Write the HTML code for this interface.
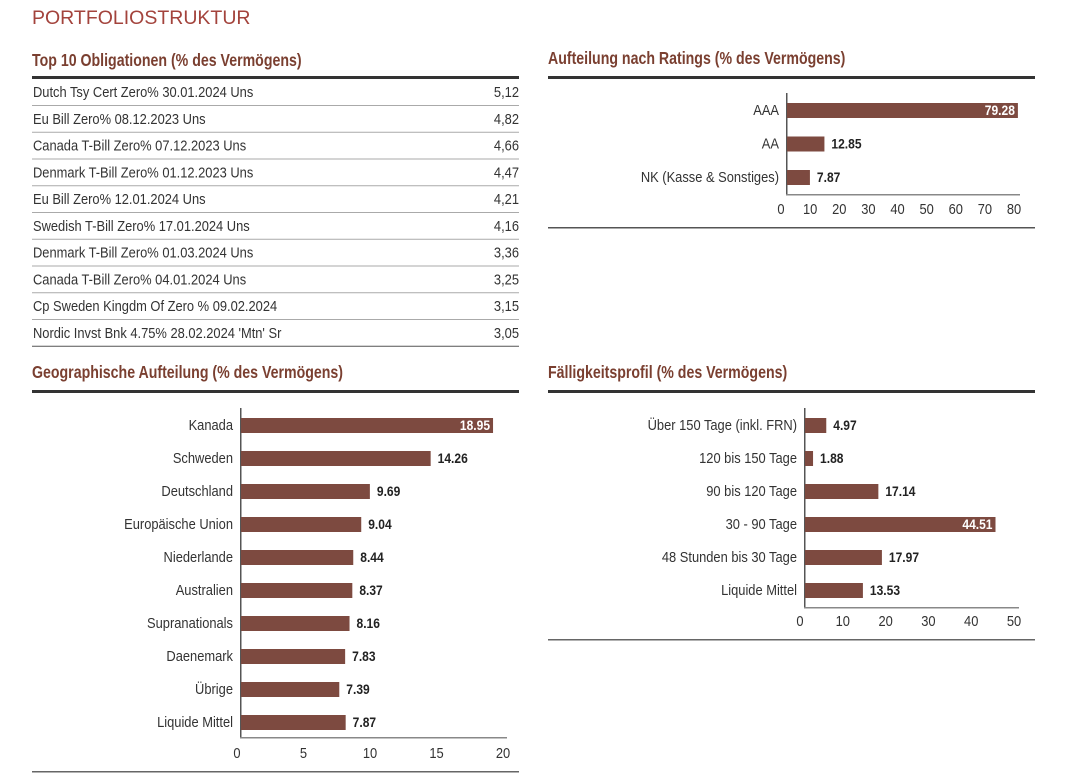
<!DOCTYPE html>
<html><head><meta charset="utf-8">
<style>
html,body{margin:0;padding:0;background:#fff;}
svg{display:block;font-family:"Liberation Sans Narrow","Liberation Sans",sans-serif;}
.h{font-weight:bold;fill:#7a3f30;font-size:17.5px;}
.t{fill:#333;font-size:15px;}
</style></head><body>
<svg id="page" width="1066" height="776" viewBox="0 0 1066 776">
<text x="32" y="24" font-family="Liberation Sans, sans-serif" font-size="19.5" fill="#a3433c">PORTFOLIOSTRUKTUR</text>
<text class="h" transform="translate(32,66) scale(0.81,1)">Top 10 Obligationen (% des Vermögens)</text>
<text class="h" transform="translate(548,64) scale(0.81,1)">Aufteilung nach Ratings (% des Vermögens)</text>
<text class="h" transform="translate(32,378) scale(0.81,1)">Geographische Aufteilung (% des Vermögens)</text>
<text class="h" transform="translate(548,378) scale(0.81,1)">Fälligkeitsprofil (% des Vermögens)</text>
<rect x="32" y="76" width="487" height="3" fill="#333"/>
<rect x="548" y="76" width="487" height="3" fill="#333"/>
<rect x="548" y="227" width="487" height="1.5" fill="#555"/>
<rect x="32" y="390" width="487" height="3" fill="#333"/>
<rect x="548" y="390" width="487" height="3" fill="#333"/>
<rect x="548" y="639" width="487" height="1.5" fill="#666"/>
<rect x="32" y="771" width="487" height="1.5" fill="#666"/>
<g id="table"></g>
<g id="ratings"></g>
<g id="geo"></g>
<g id="mat"></g>
</svg>
<script>
const NS="http://www.w3.org/2000/svg";
const tableNames=["Dutch Tsy Cert Zero% 30.01.2024 Uns","Eu Bill Zero% 08.12.2023 Uns","Canada T-Bill Zero% 07.12.2023 Uns","Denmark T-Bill Zero% 01.12.2023 Uns","Eu Bill Zero% 12.01.2024 Uns","Swedish T-Bill Zero% 17.01.2024 Uns","Denmark T-Bill Zero% 01.03.2024 Uns","Canada T-Bill Zero% 04.01.2024 Uns","Cp Sweden Kingdm Of Zero % 09.02.2024","Nordic Invst Bnk 4.75% 28.02.2024 'Mtn' Sr"];
const tableValues=["5,12","4,82","4,66","4,47","4,21","4,16","3,36","3,25","3,15","3,05"];
const ratingCats=["AAA","AA","NK (Kasse & Sonstiges)"];
const ratingVals=[79.28,12.85,7.87];
const ratingTicks=[0,10,20,30,40,50,60,70,80];
const geoCats=["Kanada","Schweden","Deutschland","Europäische Union","Niederlande","Australien","Supranationals","Daenemark","Übrige","Liquide Mittel"];
const geoVals=[18.95,14.26,9.69,9.04,8.44,8.37,8.16,7.83,7.39,7.87];
const geoTicks=[0,5,10,15,20];
const matCats=["Über 150 Tage (inkl. FRN)","120 bis 150 Tage","90 bis 120 Tage","30 - 90 Tage","48 Stunden bis 30 Tage","Liquide Mittel"];
const matVals=[4.97,1.88,17.14,44.51,17.97,13.53];
const matTicks=[0,10,20,30,40,50];
const SQ=0.86;

function mk(tag,attrs,parent,text){const e=document.createElementNS(NS,tag);for(const k in attrs)e.setAttribute(k,attrs[k]);if(text!==undefined)e.textContent=text;parent.appendChild(e);return e;}
function txt(parent,x,y,str,attrs){const a=Object.assign({transform:'translate('+x+','+y+') scale('+SQ+',1)'},attrs);return mk('text',a,parent,str);}

const tg=document.getElementById('table');
tableNames.forEach((n,i)=>{
  const yTop=79+i*26.75;
  const r=txt(tg,33,yTop+18,n,{class:'t'});
  
  
  const v=txt(tg,519,yTop+18,tableValues[i],{class:'t','text-anchor':'end'});
  
  
  const l=mk('rect',{x:32,y:yTop+26,width:487,height:1,fill:i==9?'#555':'#aaa'},tg);
  
  
});

function chart(g,cats,vals,ticks,x0,xmax,tmax,y0,step,axTop,axBot,tickY,tickOff,labelInsideMin){
  const sx=v=>x0+v/tmax*(xmax-x0);
  const ax=mk('rect',{x:x0-1,y:axTop,width:1.5,height:axBot-axTop,fill:'#555'},g);
  
  
  const bx=mk('rect',{x:x0-1,y:axBot,width:xmax-x0+1,height:1.5,fill:'#888'},g);
  
  
  cats.forEach((c,i)=>{
    const cy=y0+i*step;
    const lab=txt(g,x0-8,cy+5,c,{class:'t','text-anchor':'end'});
    
    
    const w=sx(vals[i])-x0;
    const b=mk('rect',{x:x0,y:cy-7,width:w,height:15,fill:'#7d4a40'},g);
    
    
    const inside=vals[i]>=labelInsideMin;
    const vt=txt(g,inside?x0+w-3:x0+w+7,cy+5,vals[i].toFixed(2),{'font-size':'14','font-weight':'bold','fill':inside?'#fff':'#222','text-anchor':inside?'end':'start'});
    
    
  });
  ticks.forEach(t=>{
    const tl=txt(g,sx(t)+tickOff,tickY,String(t),{class:'t','font-size':'16','text-anchor':'middle'});
    
    
  });
}
chart(document.getElementById('ratings'),ratingCats,ratingVals,ratingTicks,787,1020,80,110,33.5,93,194,214,-6,50);
chart(document.getElementById('geo'),geoCats,geoVals,geoTicks,241,507,20,425,33,408,737,758,-4,15);
chart(document.getElementById('mat'),matCats,matVals,matTicks,805,1019,50,425,33,408,607,626,-5,40);
</script>
</body></html>
